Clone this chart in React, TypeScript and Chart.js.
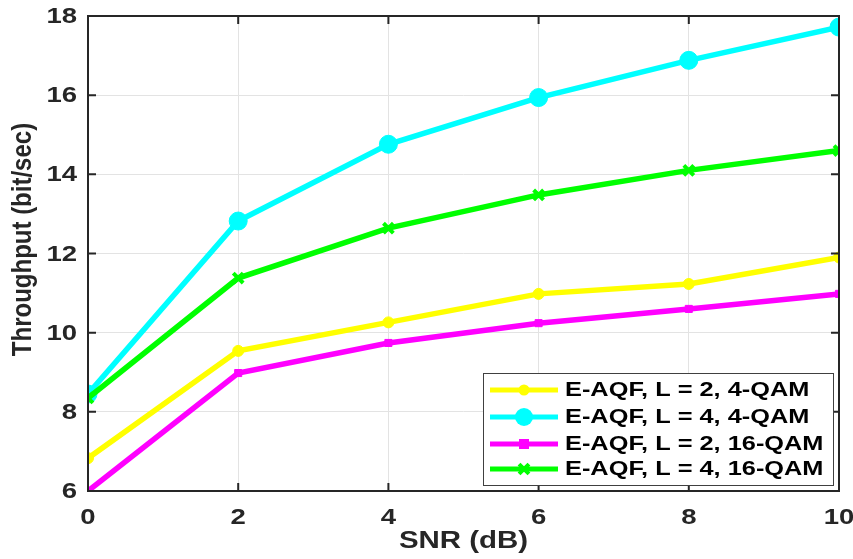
import React, { useEffect, useRef } from "react";
import { Chart, registerables } from "chart.js";

Chart.register(...registerables);

const snr = [0, 2, 4, 6, 8, 10];
const l2qam4 = [6.83, 9.54, 10.26, 10.98, 11.23, 11.9];
const l4qam4 = [8.45, 12.82, 14.76, 15.94, 16.88, 17.72];
const l2qam16 = [6.0, 8.98, 9.74, 10.24, 10.6, 10.98];
const l4qam16 = [8.35, 11.38, 12.64, 13.48, 14.1, 14.6];
const seriesLabels = [
  "E-AQF, L = 2, 4-QAM",
  "E-AQF, L = 4, 4-QAM",
  "E-AQF, L = 2, 16-QAM",
  "E-AQF, L = 4, 16-QAM",
];
const xTicks = [0, 2, 4, 6, 8, 10];
const yTicks = [6, 8, 10, 12, 14, 16, 18];
const xTitle = "SNR (dB)";
const yTitle = "Throughput (bit/sec)";

const FONT = "'Liberation Sans', Arial, sans-serif";
const STRETCH = 1.25;

function stretchedText(
  ctx: any,
  text: string,
  x: number,
  y: number,
  size: number,
  align: string,
  baseline: string,
  sx: number,
  rotate = false
) {
  ctx.save();
  ctx.translate(x, y);
  ctx.scale(sx, 1);
  if (rotate) ctx.rotate(-Math.PI / 2);
  ctx.font = `bold ${size}px ${FONT}`;
  ctx.textAlign = align;
  ctx.textBaseline = baseline;
  ctx.fillText(text, 0, 0);
  ctx.restore();
}

function drawMarker(ctx: any, style: string, r: number, x: number, y: number) {
  ctx.beginPath();
  if (style === "circle") {
    ctx.arc(x, y, r, 0, Math.PI * 2);
    ctx.fill();
  } else if (style === "rect") {
    ctx.fillRect(x - r, y - r, 2 * r, 2 * r);
  } else if (style === "crossRot") {
    const d = r * Math.SQRT1_2;
    ctx.moveTo(x - d, y - d);
    ctx.lineTo(x + d, y + d);
    ctx.moveTo(x - d, y + d);
    ctx.lineTo(x + d, y - d);
    ctx.stroke();
  }
}

const framePlugin = {
  id: "frame",
  afterDatasetsDraw(chart: any) {
    const { ctx, chartArea: a, scales } = chart;
    ctx.save();
    ctx.strokeStyle = "#262626";
    ctx.lineWidth = 2;
    ctx.strokeRect(a.left, a.top, a.right - a.left, a.bottom - a.top);
    const tl = 8;
    ctx.beginPath();
    for (const t of xTicks) {
      const x = scales.x.getPixelForValue(t);
      ctx.moveTo(x, a.bottom);
      ctx.lineTo(x, a.bottom - tl);
      ctx.moveTo(x, a.top);
      ctx.lineTo(x, a.top + tl);
    }
    for (const t of yTicks) {
      const y = scales.y.getPixelForValue(t);
      ctx.moveTo(a.left, y);
      ctx.lineTo(a.left + tl, y);
      ctx.moveTo(a.right, y);
      ctx.lineTo(a.right - tl, y);
    }
    ctx.stroke();

    ctx.fillStyle = "#262626";
    for (const t of yTicks) {
      const y = scales.y.getPixelForValue(t);
      stretchedText(ctx, String(t), a.left - 11, y + 1, 22, "right", "middle", STRETCH);
    }
    for (const t of xTicks) {
      const x = scales.x.getPixelForValue(t);
      stretchedText(ctx, String(t), x, a.bottom + 33, 22, "center", "alphabetic", STRETCH);
    }
    stretchedText(ctx, xTitle, (a.left + a.right) / 2, 548, 23, "center", "alphabetic", 1.28);
    stretchedText(ctx, yTitle, 23, (a.top + a.bottom) / 2 - 14, 24, "center", "middle", 1.18, true);
    ctx.restore();
  },
  afterDraw(chart: any) {
    const { ctx } = chart;
    const datasets = chart.data.datasets;
    const bx = 483, by = 373, bw = 350, bh = 112;
    ctx.save();
    ctx.fillStyle = "#ffffff";
    ctx.fillRect(bx, by, bw, bh);
    ctx.strokeStyle = "#404040";
    ctx.lineWidth = 1;
    ctx.strokeRect(bx + 0.5, by + 0.5, bw, bh);
    const rows = [390, 417, 444, 469];
    seriesLabels.forEach((lab, i) => {
      const ds = datasets[i];
      const y = rows[i];
      ctx.strokeStyle = ds.borderColor;
      ctx.lineWidth = 5;
      ctx.beginPath();
      ctx.moveTo(490, y);
      ctx.lineTo(558, y);
      ctx.stroke();
      ctx.fillStyle = ds.borderColor;
      ctx.strokeStyle = ds.borderColor;
      ctx.lineWidth = ds.pointBorderWidth;
      drawMarker(ctx, ds.pointStyle, ds.pointRadius, 524, y);
      ctx.fillStyle = "#000000";
      stretchedText(ctx, lab, 565, y + 1, 19.5, "left", "middle", 1.3);
    });
    ctx.restore();
  },
};

export default function App() {
  const ref = useRef<HTMLCanvasElement | null>(null);
  useEffect(() => {
    if (!ref.current) return;
    const mk = (data: number[], color: string, style: string, radius: number, order: number) => ({
      data: snr.map((x, i) => ({ x, y: data[i] })),
      borderColor: color,
      backgroundColor: color,
      borderWidth: 5.5,
      pointStyle: style,
      pointRadius: radius,
      pointBorderWidth: style === "crossRot" ? 4 : 1,
      pointBackgroundColor: color,
      pointBorderColor: color,
      tension: 0,
      order,
    });
    const chart = new Chart(ref.current, {
      type: "line",
      data: {
        datasets: [
          mk(l2qam4, "#ffff00", "circle", 5.5, 4),
          mk(l4qam4, "#00ffff", "circle", 9, 3),
          mk(l2qam16, "#ff00ff", "rect", 5, 2),
          mk(l4qam16, "#00ff00", "crossRot", 7, 1),
        ] as any,
      },
      options: {
        animation: false,
        responsive: false,
        layout: { padding: { left: 0, right: 14, top: 16, bottom: 0 } },
        plugins: { legend: { display: false }, tooltip: { enabled: false } },
        scales: {
          x: {
            type: "linear",
            min: 0,
            max: 10,
            afterBuildTicks: (s: any) => {
              s.ticks = xTicks.map((v) => ({ value: v }));
            },
            afterFit: (s: any) => {
              s.height = 68;
            },
            grid: { color: "#e3e3e3", lineWidth: 1, drawTicks: false },
            border: { display: false },
            ticks: { display: false },
            title: { display: false },
          },
          y: {
            type: "linear",
            min: 6,
            max: 18,
            afterBuildTicks: (s: any) => {
              s.ticks = yTicks.map((v) => ({ value: v }));
            },
            afterFit: (s: any) => {
              s.width = 88;
            },
            grid: { color: "#e3e3e3", lineWidth: 1, drawTicks: false },
            border: { display: false },
            ticks: { display: false },
            title: { display: false },
          },
        },
      } as any,
      plugins: [framePlugin],
    });
    return () => chart.destroy();
  }, []);
  return (
    <div style={{ position: "fixed", left: 0, top: 0, width: 853, height: 559, background: "#fff" }}>
      <canvas ref={ref} width={853} height={559} style={{ width: 853, height: 559, display: "block" }} />
    </div>
  );
}
